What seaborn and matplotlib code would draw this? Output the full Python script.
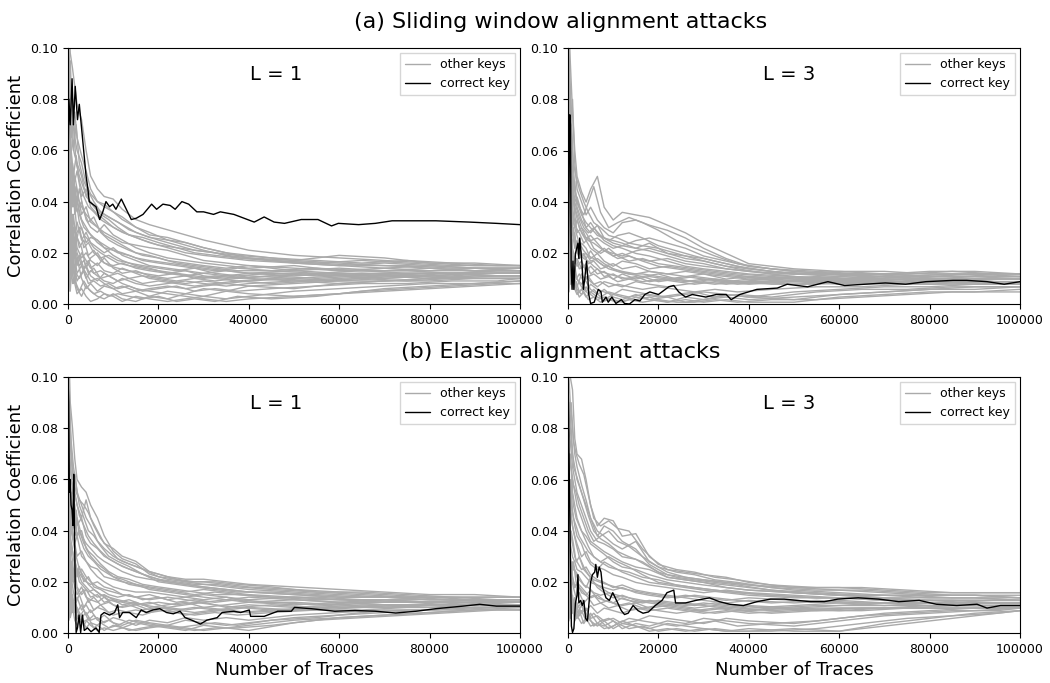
import numpy as np
import pandas as pd
import matplotlib
matplotlib.use("Agg")
import matplotlib.pyplot as plt
import seaborn as sns
from matplotlib.lines import Line2D

sns.set_style("ticks")
plt.rcParams['font.family'] = ['DejaVu Sans']
plt.rcParams.update({"text.color": "black", "axes.labelcolor": "black",
                     "xtick.color": "black", "ytick.color": "black"})

# ---------------- data ----------------
# x positions (thousands of traces) of the "other keys" samples
grid_k = [0.2, 0.5, 1, 1.5, 2, 3, 4, 5, 6.5, 8, 10, 12, 15, 18, 22, 26, 30, 35, 40, 50, 60, 70, 80, 90, 100]
grid2_k = [0.1, 0.3, 0.7, 1.2, 1.8, 2.5, 3.5, 4.5, 5.7, 7.2, 9, 11, 13.5, 16.5, 20, 24, 28, 32.5, 37.5, 45, 55, 65, 75, 85, 95, 100]

# other-key correlation values, in units of 1e-3 (first set on grid_k, second on grid2_k)
other_a1 = [
    [110, 98, 92, 85, 78, 72, 60, 50, 45, 42, 41, 37, 33, 31, 29, 27, 25, 23, 21, 19, 18, 17, 16, 15, 15],
    [80, 95, 70, 75, 65, 58, 52, 45, 40, 38, 36, 34, 30, 28, 25, 24, 22, 20, 19, 17, 19, 18, 16, 16, 15],
    [60, 50, 55, 48, 52, 42, 45, 38, 35, 33, 30, 28, 26, 24, 22, 20, 19, 18, 17, 16, 15, 14, 15, 14, 14],
    [40, 65, 48, 40, 36, 40, 33, 30, 28, 31, 27, 25, 22, 20, 18, 17, 16, 15, 14, 15, 13, 14, 13, 13, 13],
    [30, 20, 35, 28, 32, 25, 28, 24, 22, 20, 22, 19, 17, 15, 14, 13, 12, 13, 12, 12, 11, 12, 12, 12, 12],
    [50, 35, 25, 30, 22, 18, 20, 17, 15, 18, 14, 12, 13, 11, 10, 11, 12, 11, 10, 9, 10, 11, 10, 11, 11],
    [20, 40, 30, 18, 12, 15, 10, 13, 11, 9, 8, 10, 8, 7, 8, 9, 8, 7, 8, 9, 8, 9, 10, 10, 10],
    [10, 25, 15, 10, 6, 3, 7, 5, 3, 2, 4, 2, 1, 3, 2, 4, 3, 5, 4, 3, 4, 5, 6, 7, 8],
    [70, 45, 40, 50, 45, 35, 38, 32, 30, 27, 25, 23, 20, 19, 17, 16, 15, 14, 15, 13, 14, 13, 14, 13, 13],
    [5, 15, 8, 12, 18, 10, 6, 8, 5, 7, 6, 4, 5, 3, 5, 4, 6, 5, 7, 6, 8, 9, 10, 11, 11],
    [45, 30, 45, 38, 28, 30, 24, 26, 25, 22, 19, 17, 15, 14, 12, 13, 11, 10, 11, 10, 11, 10, 11, 12, 12],
    [90, 75, 62, 58, 55, 50, 42, 40, 37, 35, 33, 31, 28, 26, 25, 23, 21, 19, 18, 17, 16, 15, 14, 13, 14],
    [15, 5, 20, 14, 9, 12, 15, 11, 9, 12, 10, 8, 6, 5, 4, 3, 2, 1, 2, 3, 4, 6, 7, 8, 9],
    [35, 55, 38, 45, 40, 33, 30, 27, 24, 22, 21, 20, 18, 17, 16, 15, 14, 13, 12, 13, 12, 12, 11, 12, 12],
    [25, 12, 18, 22, 15, 20, 17, 14, 16, 13, 12, 14, 12, 10, 9, 8, 9, 8, 9, 10, 9, 10, 11, 10, 10],
    [55, 65, 50, 35, 42, 38, 35, 33, 30, 28, 26, 24, 23, 22, 21, 19, 17, 16, 15, 14, 13, 13, 13, 14, 13],
    [8, 30, 22, 8, 4, 6, 3, 1, 2, 4, 3, 1, 3, 2, 1, 2, 3, 2, 3, 5, 6, 7, 8, 8, 9],
    [100, 85, 80, 65, 60, 55, 47, 43, 40, 39, 36, 33, 30, 27, 26, 24, 22, 20, 18, 16, 15, 16, 15, 14, 14],
    [18, 28, 12, 20, 26, 22, 14, 18, 20, 16, 15, 16, 14, 13, 12, 11, 10, 11, 12, 11, 12, 11, 12, 12, 12],
    [65, 40, 28, 25, 20, 15, 12, 9, 10, 8, 6, 7, 5, 6, 7, 6, 7, 8, 7, 8, 9, 9, 9, 10, 10],
]
other2_a1 = [
    [95, 70, 85, 60, 70, 55, 48, 44, 40, 36, 34, 32, 29, 27, 25, 23, 21, 20, 19, 18, 17, 16, 17, 16, 15, 15],
    [30, 60, 40, 52, 38, 45, 36, 32, 34, 28, 25, 23, 21, 19, 18, 16, 15, 14, 13, 13, 12, 13, 12, 12, 13, 13],
    [60, 25, 35, 20, 28, 22, 25, 19, 21, 17, 15, 14, 13, 12, 11, 12, 10, 11, 10, 11, 12, 11, 11, 12, 11, 11],
    [15, 45, 22, 30, 16, 19, 14, 17, 12, 13, 11, 9, 10, 8, 9, 8, 7, 8, 9, 8, 9, 10, 9, 10, 10, 10],
    [80, 90, 65, 70, 55, 50, 45, 41, 38, 35, 33, 30, 27, 25, 23, 22, 20, 19, 18, 17, 16, 15, 15, 14, 14, 14],
    [5, 20, 10, 14, 8, 5, 9, 6, 4, 5, 3, 4, 3, 2, 3, 1, 2, 1, 3, 2, 3, 5, 6, 7, 8, 8],
    [45, 35, 55, 42, 46, 35, 30, 28, 26, 24, 22, 20, 19, 17, 16, 15, 14, 13, 14, 13, 14, 13, 13, 12, 13, 13],
    [20, 10, 28, 35, 24, 30, 22, 24, 20, 18, 19, 17, 16, 15, 14, 13, 14, 12, 11, 12, 11, 12, 11, 11, 12, 12],
    [70, 50, 45, 38, 40, 32, 27, 25, 22, 20, 18, 16, 15, 14, 13, 12, 11, 10, 9, 10, 9, 10, 11, 10, 11, 11],
    [10, 30, 18, 8, 12, 10, 13, 8, 9, 7, 8, 6, 7, 5, 6, 7, 5, 6, 5, 6, 7, 8, 8, 9, 9, 10],
    [50, 75, 60, 50, 58, 48, 42, 38, 36, 33, 31, 29, 27, 26, 24, 22, 21, 20, 18, 17, 16, 17, 16, 15, 15, 15],
    [35, 15, 25, 18, 20, 15, 17, 12, 14, 10, 11, 12, 10, 11, 10, 9, 10, 9, 10, 11, 10, 11, 12, 12, 12, 12],
]
other_a3 = [
    [110, 95, 75, 60, 50, 44, 40, 45, 50, 38, 33, 36, 35, 34, 31, 28, 24, 20, 16, 14, 13, 13, 12, 12, 12],
    [90, 70, 80, 55, 45, 40, 35, 38, 33, 30, 28, 32, 33, 31, 29, 26, 22, 18, 15, 13, 12, 12, 13, 13, 12],
    [60, 50, 40, 48, 38, 33, 30, 28, 31, 26, 24, 23, 22, 24, 20, 19, 18, 16, 14, 12, 13, 12, 11, 12, 11],
    [40, 55, 35, 30, 33, 28, 25, 22, 20, 22, 19, 20, 18, 17, 18, 16, 15, 14, 13, 11, 10, 11, 10, 10, 10],
    [25, 35, 28, 22, 25, 20, 18, 21, 17, 15, 16, 14, 15, 13, 12, 13, 12, 11, 10, 11, 9, 10, 10, 9, 9],
    [50, 30, 22, 18, 15, 17, 13, 15, 12, 13, 10, 12, 10, 11, 10, 9, 10, 9, 8, 9, 8, 9, 8, 9, 9],
    [15, 25, 18, 12, 10, 8, 11, 9, 7, 9, 8, 7, 9, 8, 7, 8, 9, 8, 9, 8, 9, 8, 9, 8, 8],
    [8, 20, 10, 6, 4, 6, 3, 5, 3, 2, 4, 3, 2, 3, 1, 2, 1, 2, 1, 1, 3, 4, 5, 5, 6],
    [70, 45, 50, 40, 42, 36, 30, 32, 28, 25, 23, 22, 20, 19, 17, 15, 14, 13, 12, 11, 10, 11, 10, 10, 10],
    [5, 12, 8, 15, 10, 7, 5, 8, 6, 5, 4, 6, 5, 4, 3, 4, 5, 4, 3, 5, 6, 7, 7, 8, 8],
    [35, 15, 25, 28, 20, 24, 22, 18, 20, 17, 15, 17, 16, 14, 15, 14, 13, 12, 11, 10, 11, 10, 9, 10, 10],
    [100, 85, 60, 45, 40, 35, 32, 30, 27, 26, 25, 24, 22, 21, 19, 17, 16, 14, 13, 12, 11, 12, 11, 11, 11],
    [20, 8, 14, 10, 7, 12, 9, 6, 4, 6, 3, 2, 4, 2, 3, 1, 2, 3, 2, 3, 4, 5, 6, 7, 7],
    [45, 60, 45, 35, 28, 30, 26, 27, 24, 21, 20, 19, 21, 22, 20, 18, 17, 15, 14, 12, 12, 11, 11, 11, 11],
    [12, 28, 20, 16, 18, 14, 16, 12, 14, 11, 12, 10, 11, 9, 10, 11, 10, 9, 10, 9, 10, 9, 9, 9, 9],
    [55, 40, 30, 25, 22, 19, 20, 17, 18, 16, 14, 13, 12, 13, 12, 11, 12, 10, 11, 10, 9, 10, 10, 11, 10],
    [30, 18, 12, 8, 6, 4, 7, 4, 2, 3, 2, 1, 3, 2, 1, 3, 2, 4, 3, 2, 4, 5, 6, 6, 7],
    [80, 60, 45, 38, 35, 30, 28, 25, 26, 24, 22, 23, 25, 26, 24, 22, 19, 17, 15, 13, 12, 12, 12, 12, 12],
]
other2_a3 = [
    [95, 80, 60, 48, 42, 38, 35, 40, 46, 36, 30, 32, 34, 32, 29, 25, 22, 19, 16, 14, 13, 12, 12, 13, 12, 12],
    [30, 60, 45, 35, 30, 28, 24, 26, 22, 20, 22, 19, 17, 18, 16, 15, 14, 13, 12, 11, 10, 10, 11, 10, 10, 10],
    [60, 25, 35, 28, 22, 18, 20, 16, 17, 14, 15, 13, 12, 11, 12, 10, 11, 10, 9, 10, 9, 8, 9, 9, 8, 8],
    [15, 40, 20, 14, 10, 12, 9, 11, 8, 9, 7, 8, 7, 6, 7, 6, 5, 6, 5, 6, 7, 7, 8, 8, 8, 8],
    [80, 90, 70, 55, 50, 45, 40, 36, 32, 30, 27, 26, 24, 23, 22, 20, 18, 16, 14, 12, 12, 11, 11, 11, 11, 11],
    [5, 20, 8, 12, 6, 3, 5, 2, 3, 1, 2, 1, 2, 1, 2, 1, 1, 2, 1, 2, 2, 3, 4, 5, 5, 5],
    [45, 35, 50, 40, 35, 30, 27, 25, 24, 22, 20, 18, 19, 17, 15, 14, 13, 12, 11, 10, 11, 10, 10, 10, 9, 9],
    [20, 10, 25, 30, 22, 20, 18, 17, 15, 13, 12, 11, 10, 11, 9, 10, 9, 8, 9, 8, 8, 9, 8, 9, 9, 9],
    [70, 50, 40, 32, 28, 24, 21, 19, 18, 16, 14, 13, 12, 12, 11, 10, 9, 10, 9, 9, 10, 9, 10, 9, 10, 10],
    [10, 30, 15, 6, 9, 5, 7, 4, 6, 3, 5, 4, 3, 4, 3, 4, 5, 3, 4, 3, 5, 6, 6, 7, 7, 7],
    [50, 70, 55, 42, 38, 34, 30, 28, 30, 27, 25, 27, 28, 26, 23, 21, 19, 17, 15, 13, 12, 12, 11, 12, 11, 11],
    [35, 15, 22, 16, 18, 14, 15, 11, 12, 10, 11, 9, 10, 9, 10, 9, 8, 9, 8, 9, 9, 10, 9, 10, 10, 10],
]
other_b1 = [
    [110, 90, 80, 68, 60, 57, 55, 50, 45, 38, 32, 29, 27, 23, 21, 20, 20, 19, 18, 17, 16, 15, 14, 14, 14],
    [85, 75, 65, 55, 50, 45, 52, 45, 40, 35, 33, 30, 28, 24, 22, 21, 21, 20, 19, 18, 17, 16, 15, 15, 14],
    [60, 45, 50, 40, 45, 38, 35, 33, 30, 28, 26, 24, 22, 21, 20, 19, 18, 17, 16, 15, 14, 14, 13, 13, 13],
    [40, 55, 38, 35, 30, 32, 28, 26, 25, 22, 21, 20, 19, 18, 17, 16, 17, 16, 15, 14, 13, 13, 12, 13, 12],
    [25, 35, 28, 30, 22, 25, 22, 20, 18, 17, 16, 15, 14, 15, 13, 14, 13, 14, 12, 13, 12, 12, 12, 12, 12],
    [50, 30, 20, 25, 18, 15, 17, 14, 15, 12, 13, 11, 12, 10, 11, 12, 10, 11, 12, 11, 12, 11, 11, 12, 11],
    [15, 25, 12, 10, 14, 9, 11, 8, 10, 9, 7, 8, 9, 8, 9, 7, 8, 9, 8, 9, 10, 10, 11, 11, 11],
    [8, 18, 10, 5, 3, 6, 2, 4, 3, 1, 3, 2, 4, 3, 2, 1, 3, 2, 1, 4, 6, 7, 8, 9, 9],
    [70, 40, 45, 48, 38, 40, 33, 30, 27, 25, 22, 21, 19, 17, 16, 15, 14, 13, 14, 13, 12, 13, 12, 12, 12],
    [5, 12, 15, 8, 10, 6, 8, 5, 6, 4, 6, 5, 3, 5, 4, 6, 5, 6, 5, 7, 8, 9, 9, 10, 10],
    [35, 20, 28, 20, 25, 20, 18, 16, 14, 15, 13, 12, 11, 12, 10, 11, 12, 10, 11, 10, 11, 10, 11, 11, 11],
    [100, 80, 60, 62, 55, 50, 45, 42, 36, 33, 30, 28, 26, 24, 22, 20, 19, 18, 17, 16, 15, 14, 14, 13, 13],
    [20, 6, 10, 14, 8, 11, 7, 9, 5, 7, 4, 3, 5, 4, 3, 5, 4, 3, 4, 6, 7, 8, 9, 10, 10],
    [45, 60, 40, 35, 38, 30, 28, 25, 22, 20, 18, 17, 16, 16, 15, 14, 15, 14, 13, 14, 13, 12, 12, 13, 12],
    [12, 28, 22, 18, 15, 18, 14, 13, 12, 14, 11, 10, 11, 9, 10, 9, 10, 9, 10, 9, 10, 11, 10, 11, 11],
    [55, 38, 32, 28, 25, 22, 20, 19, 20, 18, 17, 15, 14, 13, 14, 13, 12, 13, 12, 12, 11, 12, 12, 12, 12],
    [30, 15, 8, 12, 6, 4, 5, 3, 1, 2, 1, 2, 1, 2, 3, 2, 1, 2, 3, 5, 6, 7, 8, 9, 10],
    [80, 65, 55, 50, 42, 45, 38, 35, 33, 30, 28, 26, 24, 22, 20, 19, 18, 17, 16, 15, 14, 14, 13, 13, 12],
]
other2_b1 = [
    [95, 75, 70, 60, 55, 52, 50, 47, 42, 37, 33, 29, 27, 25, 22, 21, 20, 20, 19, 18, 16, 16, 15, 14, 14, 14],
    [30, 60, 45, 42, 38, 40, 35, 32, 30, 27, 24, 22, 21, 19, 18, 17, 16, 15, 15, 14, 14, 13, 13, 13, 12, 12],
    [60, 25, 35, 30, 22, 26, 20, 22, 18, 17, 15, 14, 15, 13, 14, 12, 13, 12, 13, 12, 11, 12, 12, 11, 12, 12],
    [15, 40, 22, 16, 12, 15, 10, 13, 9, 11, 8, 9, 8, 7, 9, 8, 7, 8, 7, 8, 9, 9, 10, 10, 10, 10],
    [80, 90, 75, 65, 58, 50, 45, 40, 38, 34, 30, 28, 26, 23, 21, 20, 19, 19, 18, 17, 16, 15, 14, 14, 13, 13],
    [5, 18, 8, 12, 5, 8, 3, 6, 2, 4, 2, 3, 1, 2, 3, 2, 1, 2, 2, 3, 5, 6, 7, 8, 9, 9],
    [45, 35, 55, 45, 48, 38, 33, 30, 28, 25, 23, 21, 19, 18, 17, 16, 15, 16, 15, 14, 13, 13, 12, 12, 12, 12],
    [20, 10, 28, 22, 26, 20, 18, 16, 17, 15, 13, 12, 13, 11, 12, 11, 12, 11, 10, 11, 10, 11, 11, 11, 11, 11],
    [70, 50, 40, 35, 30, 25, 22, 19, 17, 15, 14, 13, 12, 11, 10, 9, 10, 9, 10, 9, 10, 10, 11, 11, 11, 11],
    [10, 30, 14, 8, 11, 6, 9, 5, 7, 4, 5, 3, 5, 4, 3, 2, 3, 4, 3, 5, 6, 8, 9, 9, 10, 10],
    [50, 70, 62, 55, 52, 46, 42, 38, 35, 32, 29, 27, 25, 23, 20, 19, 18, 17, 16, 16, 15, 14, 14, 13, 13, 13],
    [35, 15, 20, 25, 18, 15, 17, 12, 14, 11, 12, 10, 11, 9, 10, 9, 8, 9, 8, 9, 9, 10, 10, 10, 10, 10],
]
other_b3 = [
    [110, 100, 95, 76, 70, 68, 60, 50, 42, 45, 44, 38, 39, 30, 25, 24, 23, 22, 20, 18, 18, 17, 16, 16, 16],
    [90, 80, 70, 65, 60, 55, 50, 45, 40, 38, 35, 33, 36, 28, 24, 22, 21, 20, 19, 17, 16, 15, 15, 15, 14],
    [60, 70, 55, 50, 45, 40, 38, 35, 33, 31, 28, 26, 25, 23, 21, 20, 19, 18, 17, 16, 15, 14, 14, 14, 13],
    [40, 50, 42, 38, 35, 30, 32, 28, 26, 25, 23, 22, 20, 19, 18, 17, 16, 17, 16, 15, 14, 13, 13, 12, 12],
    [25, 35, 30, 28, 25, 24, 22, 20, 19, 18, 17, 18, 16, 15, 14, 15, 14, 13, 14, 13, 12, 12, 12, 12, 12],
    [50, 30, 22, 18, 20, 16, 15, 17, 14, 13, 12, 14, 12, 13, 12, 11, 12, 11, 10, 11, 12, 11, 12, 11, 11],
    [15, 25, 12, 14, 10, 12, 9, 11, 8, 10, 9, 8, 10, 9, 10, 9, 8, 9, 8, 9, 10, 10, 11, 11, 11],
    [8, 18, 10, 5, 7, 4, 6, 3, 4, 2, 3, 5, 3, 2, 4, 3, 2, 1, 2, 1, 1, 4, 6, 8, 9],
    [70, 45, 60, 55, 50, 45, 40, 36, 34, 32, 30, 28, 26, 25, 22, 21, 20, 19, 18, 16, 15, 14, 13, 13, 13],
    [5, 12, 15, 8, 12, 8, 10, 6, 7, 5, 6, 4, 5, 7, 6, 5, 4, 6, 5, 4, 6, 8, 9, 10, 10],
    [35, 20, 28, 25, 22, 20, 18, 22, 18, 16, 14, 15, 13, 12, 11, 12, 11, 10, 11, 10, 11, 12, 11, 11, 11],
    [100, 90, 80, 70, 65, 58, 52, 45, 38, 42, 40, 36, 33, 27, 23, 22, 21, 20, 19, 18, 17, 16, 15, 15, 14],
    [20, 6, 10, 14, 8, 11, 7, 5, 3, 5, 2, 4, 3, 1, 2, 1, 2, 1, 1, 2, 1, 3, 5, 7, 9],
    [45, 60, 48, 42, 38, 35, 30, 27, 25, 28, 26, 24, 22, 20, 19, 18, 17, 16, 15, 14, 14, 13, 13, 13, 13],
    [12, 28, 22, 18, 20, 18, 16, 14, 15, 13, 12, 11, 12, 10, 11, 10, 9, 10, 9, 10, 9, 10, 10, 10, 10],
    [55, 40, 35, 30, 28, 25, 26, 23, 21, 20, 18, 19, 17, 16, 15, 14, 13, 12, 13, 12, 13, 12, 12, 12, 12],
    [30, 15, 8, 12, 6, 9, 5, 8, 4, 3, 5, 2, 4, 3, 5, 4, 6, 5, 4, 3, 5, 7, 8, 9, 10],
    [80, 75, 65, 60, 55, 50, 45, 40, 36, 35, 33, 30, 29, 26, 22, 21, 20, 18, 17, 16, 15, 15, 14, 14, 13],
]
other2_b3 = [
    [95, 85, 90, 75, 70, 66, 62, 54, 45, 42, 44, 41, 40, 33, 27, 25, 24, 22, 21, 19, 18, 18, 17, 16, 16, 16],
    [30, 60, 50, 45, 42, 38, 35, 32, 30, 28, 26, 25, 24, 22, 21, 19, 18, 17, 16, 15, 14, 14, 13, 13, 13, 13],
    [60, 25, 40, 35, 28, 30, 25, 23, 21, 20, 19, 18, 17, 16, 15, 14, 15, 14, 13, 12, 13, 12, 12, 12, 12, 12],
    [15, 40, 22, 18, 14, 16, 12, 14, 11, 12, 10, 11, 9, 10, 9, 8, 9, 8, 9, 8, 9, 9, 10, 10, 10, 10],
    [80, 90, 80, 65, 62, 58, 52, 46, 40, 37, 35, 32, 30, 28, 24, 22, 21, 20, 19, 17, 16, 15, 15, 14, 14, 14],
    [5, 18, 8, 12, 6, 9, 4, 7, 3, 5, 2, 4, 2, 3, 1, 2, 1, 2, 1, 1, 2, 4, 6, 7, 8, 9],
    [45, 35, 60, 50, 45, 42, 38, 34, 30, 28, 30, 28, 26, 23, 20, 19, 18, 17, 16, 15, 14, 14, 13, 13, 12, 12],
    [20, 10, 28, 25, 24, 22, 19, 18, 16, 15, 16, 14, 13, 12, 13, 12, 11, 12, 11, 10, 11, 11, 11, 11, 11, 11],
    [70, 50, 45, 40, 35, 30, 26, 23, 20, 18, 16, 15, 14, 13, 12, 11, 10, 11, 10, 9, 10, 10, 10, 11, 11, 11],
    [10, 30, 16, 9, 12, 7, 10, 6, 8, 5, 6, 4, 6, 5, 4, 3, 4, 5, 3, 4, 5, 7, 8, 9, 9, 10],
    [50, 70, 65, 58, 55, 50, 45, 40, 36, 38, 40, 36, 34, 30, 26, 24, 23, 21, 20, 18, 17, 17, 16, 15, 15, 15],
    [35, 15, 22, 28, 20, 18, 16, 14, 15, 12, 13, 11, 12, 10, 11, 10, 9, 10, 9, 10, 9, 10, 10, 10, 10, 10],
]

# correct-key curves: x in thousands of traces, y in units of 1e-3
correct_a1_x = [0, 0.2, 0.5, 0.9, 1.2, 1.6, 2.1, 2.5, 3.2, 4.0, 4.4, 4.7, 6.2, 7.0, 7.7, 8.4, 9.2, 9.9, 10.6, 11.8, 12.9, 14.0, 15.1, 16.6, 18.5, 19.6, 21.0, 22.6, 23.7, 25.2, 26.7, 28.5, 30.0, 32.2, 33.7, 36.7, 39.7, 41.2, 43.4, 45.6, 47.9, 51.6, 55.3, 58.3, 59.8, 64.3, 68.0, 71.7, 75.4, 81.4, 88.8, 94.8, 100]
correct_a1_y = [54, 80, 70, 88, 70, 85, 72, 78, 65, 50, 45, 40, 38, 33, 36, 40, 38, 39, 37, 41, 37, 33, 33.5, 35, 39, 37, 39, 38.5, 37, 40, 39, 36, 36, 35, 36, 35, 33, 32, 34, 32, 31.5, 33, 33, 30.5, 31.5, 31, 31.5, 32.5, 32.5, 32.5, 32, 31.5, 31]

correct_a3_x = [0, 0.4, 0.55, 0.7, 0.9, 1.1, 1.3, 1.65, 2.2, 2.4, 2.6, 2.9, 3.1, 3.4, 3.7, 4.1, 4.4, 4.6, 5.0, 5.8, 6.7, 7.3, 7.6, 8.4, 8.9, 9.7, 10.6, 11.8, 12.5, 13.6, 14.8, 15.9, 17.0, 18.1, 20.0, 22.3, 23.4, 24.5, 26.0, 27.5, 30.5, 32.8, 35.0, 36.1, 38.0, 41.8, 46.3, 48.5, 53.0, 57.5, 61.2, 65.7, 70.2, 74.7, 79.2, 85.2, 88.2, 92.7, 96.5, 100]
correct_a3_y = [10, 74, 70, 15, 6, 17, 6, 20, 24, 18, 26, 20, 16, 6, 10, 17, 10, 4, 0.5, 1, 6, 5, 1, 3, 1, 3, 0.5, 2, 0.5, 0.3, 2, 1.5, 4, 5, 4, 7, 7.5, 5, 3, 4, 3, 4, 4, 2, 4, 6, 6.5, 8, 7, 9, 7.5, 8, 8.5, 8, 9, 9.5, 9.5, 9, 8, 9]

correct_b1_x = [0, 0.15, 0.3, 0.45, 0.67, 0.9, 1.1, 1.27, 1.4, 1.6, 1.8, 2.1, 2.45, 2.8, 3.2, 3.6, 4.3, 5.1, 6.2, 6.9, 7.3, 8.0, 9.2, 10.3, 11.0, 11.4, 12.1, 13.6, 15.1, 16.2, 17.3, 18.8, 20.3, 21.8, 23.3, 24.8, 25.9, 27.4, 29.3, 30.7, 33.0, 34.1, 36.7, 38.2, 40.1, 40.4, 43.4, 46.4, 49.4, 50.1, 53.8, 59.0, 63.5, 68.0, 72.5, 77.0, 81.4, 87.4, 91.1, 94.8, 100]
correct_b1_y = [100, 90, 55, 60, 50, 48, 42, 62, 45, 18, 0.2, 2, 7, 0.2, 7, 1, 2, 0.5, 2, 0.2, 7, 8, 7, 8, 11, 6, 8, 8, 6, 9, 8, 9, 9.5, 8, 7.5, 8.5, 6, 5, 3.5, 5, 6, 8, 8.5, 8, 9, 6.5, 6.5, 8.5, 8.5, 10, 9.5, 8.5, 8.8, 8.5, 7.8, 8.5, 9.5, 10.5, 11.2, 10.5, 10.5]

correct_b3_x = [0, 0.15, 0.3, 0.45, 0.6, 0.75, 1.0, 1.3, 1.65, 2.0, 2.2, 2.4, 2.8, 3.15, 3.5, 3.9, 4.3, 4.65, 5.0, 5.4, 5.9, 6.15, 6.5, 6.9, 7.3, 7.65, 8.4, 9.15, 9.9, 11.0, 11.8, 12.5, 13.3, 14.4, 15.5, 16.6, 17.8, 19.3, 20.8, 21.9, 23.4, 23.8, 26.0, 28.3, 31.3, 33.5, 35.8, 38.8, 41.8, 44.8, 47.8, 50.7, 53.7, 56.7, 59.7, 64.2, 68.7, 73.2, 77.7, 81.5, 86.0, 90.5, 92.7, 95.7, 100]
correct_b3_y = [100, 83, 60, 40, 20, 3, 0.5, 2, 12, 15, 23, 12, 13, 11, 13, 6, 5, 12, 20, 23, 24, 27, 22, 26, 24, 18, 14, 13, 16, 12, 9, 7.5, 8, 11, 9, 8, 8.5, 11, 13, 16, 17, 12, 12, 13, 14, 12.5, 11.5, 11, 12.5, 13.5, 13.5, 13, 12.5, 12.5, 13.5, 14, 13.5, 12.5, 13, 11.5, 11, 11.5, 10, 11, 11]

panels = [
    ("L = 1", other_a1, other2_a1, correct_a1_x, correct_a1_y),
    ("L = 3", other_a3, other2_a3, correct_a3_x, correct_a3_y),
    ("L = 1", other_b1, other2_b1, correct_b1_x, correct_b1_y),
    ("L = 3", other_b3, other2_b3, correct_b3_x, correct_b3_y),
]
row_titles = ["(a) Sliding window alignment attacks", "(b) Elastic alignment attacks"]

# ---------------- plotting ----------------
GRAY = "#aaaaaa"
fig = plt.figure(figsize=(10.5, 6.83), dpi=100)
W, H = 1050.0, 683.0
boxes = [(68, 48), (568, 48), (68, 377), (568, 377)]
aw, ah = 452, 256

for i, (label, others, others2, cx, cy) in enumerate(panels):
    x0, y0 = boxes[i]
    ax = fig.add_axes([x0 / W, 1 - (y0 + ah) / H, aw / W, ah / H])
    rows = []
    for k, series in enumerate(others):
        for gx, v in zip(grid_k, series):
            rows.append({"x": gx * 1000, "v": v / 1000.0, "key": k})
    for k, series in enumerate(others2):
        for gx, v in zip(grid2_k, series):
            rows.append({"x": gx * 1000, "v": v / 1000.0, "key": 100 + k})
    df = pd.DataFrame(rows)
    sns.lineplot(data=df, x="x", y="v", units="key", estimator=None,
                 color=GRAY, lw=1.0, ax=ax, legend=False, sort=False)
    dfc = pd.DataFrame({"x": np.array(cx) * 1000, "v": np.array(cy) / 1000.0})
    sns.lineplot(data=dfc, x="x", y="v", color="black", lw=1.0, ax=ax,
                 estimator=None, sort=False)
    ax.set_xlim(0, 100000)
    ax.set_xticks([0, 20000, 40000, 60000, 80000, 100000])
    if i % 2 == 0:
        ax.set_ylim(0, 0.1)
        ax.set_yticks([0, 0.02, 0.04, 0.06, 0.08, 0.10])
        ax.set_yticklabels(["0.00", "0.02", "0.04", "0.06", "0.08", "0.10"])
        ax.set_ylabel("Correlation Coefficient", fontsize=13)
    else:
        ax.set_ylim(0.0003, 0.1)
        ax.set_yticks([0.02, 0.04, 0.06, 0.08, 0.10])
        ax.set_yticklabels(["0.02", "0.04", "0.06", "0.08", "0.10"])
        ax.set_ylabel("")
    if i >= 2:
        ax.set_xlabel("Number of Traces", fontsize=13)
    else:
        ax.set_xlabel("")
    ax.tick_params(labelsize=9, length=3.5, width=0.8, colors="black")
    for s in ax.spines.values():
        s.set_color("black")
        s.set_linewidth(0.8)
    ax.text(0.46 if i % 2 == 0 else 0.49, 0.895, label, transform=ax.transAxes,
            ha="center", va="center", fontsize=14)
    handles = [Line2D([0], [0], color=GRAY, lw=1.0),
               Line2D([0], [0], color="black", lw=1.0)]
    ax.legend(handles, ["other keys", "correct key"], loc="upper right",
              fontsize=9, frameon=True, fancybox=False, edgecolor="#cccccc",
              borderaxespad=0.4)

fig.text(561 / W, 1 - 22 / H, row_titles[0], ha="center", va="center", fontsize=16)
fig.text(561 / W, 1 - 352 / H, row_titles[1], ha="center", va="center", fontsize=16)

fig.savefig("out.png", dpi=100)
